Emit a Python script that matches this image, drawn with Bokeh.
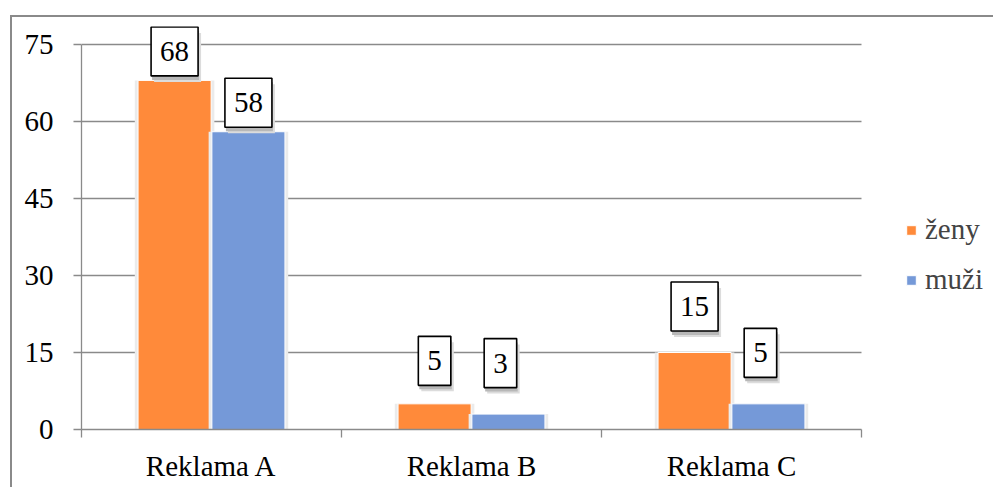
from bokeh.plotting import figure
from bokeh.models import ColumnDataSource, FixedTicker, Legend, LegendItem, BoxAnnotation
from bokeh.core.properties import value
from bokeh.embed import file_html
from bokeh.resources import INLINE

# --- data -----------------------------------------------------------------
categories = ["Reklama A", "Reklama B", "Reklama C"]
zeny = [68, 5, 15]
muzi = [58, 3, 5]
y_ticks = [0, 15, 30, 45, 60, 75]
series_names = ["ženy", "muži"]

# --- styling --------------------------------------------------------------
ORANGE = "#FF8A3A"
BLUE = "#7599D8"
GREY = "#8a8a8a"
FONT = "Liberation Serif"
FS = "29px"

W, H = 983, 472
LEFT, TOP, BOTTOM = 69, 9, 60
CAT_PX = 260                      # pixel width of one category slot
n_cat = len(categories)
frame_w = W - LEFT
x_end = frame_w / CAT_PX          # plot area runs on under the legend
y_top = 78.5                      # headroom so the top value box is not clipped

centers = [i + 0.5 for i in range(n_cat)]
bar_w = 0.281
shift = 0.142

# pixel nudges that lift the value boxes above their bars
lift_zeny = [29, 43, 46]
lift_muzi = [29, 51, 51]
nudge_zeny = [0, 0, 0]
nudge_muzi = [0, -8, -8]

p = figure(width=W, height=H, x_range=(0, x_end), y_range=(0, y_top),
           output_backend="svg", toolbar_location=None,
           min_border_left=LEFT, min_border_right=0, min_border_top=TOP, min_border_bottom=BOTTOM,
           outline_line_color=None, background_fill_color="white", border_fill_color="white")
p.styles = {"border-top": f"2px solid {GREY}", "border-left": f"2px solid {GREY}",
            "margin-left": "10px", "margin-top": "15px"}

# axes
p.xaxis.ticker = FixedTicker(ticks=centers, minor_ticks=list(range(n_cat + 1)))
p.xaxis.bounds = (0, n_cat)
p.xaxis.major_label_overrides = {c: name for c, name in zip(centers, categories)}
p.xaxis.major_tick_line_color = None
p.xaxis.major_tick_out = 0
p.xaxis.major_tick_in = 0
p.xaxis.minor_tick_in = 0
p.xaxis.minor_tick_out = 8
p.xaxis.minor_tick_line_color = GREY
p.xaxis.minor_tick_line_width = 1.3
p.xaxis.major_label_standoff = 12

p.yaxis.ticker = FixedTicker(ticks=y_ticks)
p.yaxis.bounds = (y_ticks[0], y_ticks[-1])
p.yaxis.major_tick_in = 0
p.yaxis.major_tick_out = 8
p.yaxis.major_tick_line_color = GREY
p.yaxis.major_tick_line_width = 1.3
p.yaxis.minor_tick_line_color = None
p.yaxis.major_label_standoff = 20

for ax in (p.xaxis, p.yaxis):
    ax.axis_line_color = GREY
    ax.axis_line_width = 1.3
    ax.major_label_text_font = FONT
    ax.major_label_text_font_size = FS
    ax.major_label_text_color = "black"

p.xgrid.grid_line_color = None
p.ygrid.grid_line_color = GREY
p.ygrid.grid_line_width = 1.3
# keep the gridlines out of the legend strip
p.add_layout(BoxAnnotation(left=n_cat, fill_color="white", fill_alpha=1,
                           line_color=None, level="underlay"))

# bars with a soft halo behind them
renderers = []
for vals, off, color in ((zeny, -shift, ORANGE), (muzi, shift, BLUE)):
    xs = [c + off for c in centers]
    src = ColumnDataSource(dict(x=xs, top=vals))
    p.vbar(x="x", top="top", width=bar_w + 0.025, source=src,
           fill_color="#ebebeb", line_color=None)
    renderers.append(p.vbar(x="x", top="top", width=bar_w, source=src,
                            fill_color=color, line_color="white", line_width=1))

# value boxes with a soft drop shadow
for vals, off, lift, nudge in ((zeny, -shift, lift_zeny, nudge_zeny),
                               (muzi, shift, lift_muzi, nudge_muzi)):
    src = ColumnDataSource(dict(
        x=[c + off for c in centers], y=vals, t=[str(v) for v in vals],
        dx=nudge, dy=[-l for l in lift],
        s1x=[n + 3 for n in nudge], s1y=[-l + 6 for l in lift],
        s2x=[n + 1 for n in nudge], s2y=[-l + 4 for l in lift]))
    common = dict(text="t", source=src, text_font=value(FONT), text_font_size=FS,
                  text_align="center", text_baseline="middle",
                  padding=dict(left=9, right=9, top=15, bottom=15))
    p.text(x="x", y="y", x_offset="s1x", y_offset="s1y", text_color="#dcdcdc",
           background_fill_color="#dcdcdc", border_line_color=None, **common)
    p.text(x="x", y="y", x_offset="s2x", y_offset="s2y", text_color="#b8b8b8",
           background_fill_color="#b8b8b8", border_line_color=None, **common)
    p.text(x="x", y="y", x_offset="dx", y_offset="dy", text_color="black",
           background_fill_color="white", border_line_color="black",
           border_line_width=1.6, **common)

legend = Legend(items=[LegendItem(label=n, renderers=[r]) for n, r in zip(series_names, renderers)],
                location=(824, 133), orientation="vertical",
                glyph_width=12, glyph_height=12, label_height=20, spacing=17,
                padding=0, margin=0, border_line_color=None, background_fill_alpha=0,
                label_text_font=FONT, label_text_font_size=FS, label_standoff=8)
p.add_layout(legend)

open("out.html", "w").write(file_html(p, INLINE))
